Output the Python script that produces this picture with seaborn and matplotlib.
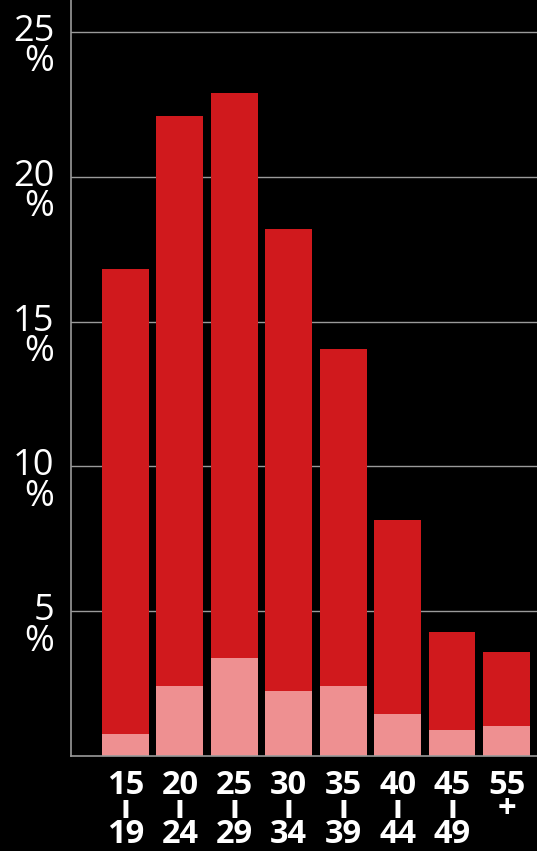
import matplotlib
matplotlib.use("Agg")
import matplotlib.pyplot as plt
from matplotlib.transforms import offset_copy
import seaborn as sns
import pandas as pd

# age groups and shares (%)
age_groups = ["15-19", "20-24", "25-29", "30-34", "35-39", "40-44", "45-49", "55+"]
age_labels = ["15\nı\n19", "20\nı\n24", "25\nı\n29", "30\nı\n34",
              "35\nı\n39", "40\nı\n44", "45\nı\n49", "55\n+\n"]
total_share = [16.8, 22.1, 22.9, 18.2, 14.05, 8.15, 4.28, 3.59]
sub_share = [0.76, 2.42, 3.38, 2.24, 2.42, 1.45, 0.90, 1.04]
y_ticks = [5, 10, 15, 20, 25]

RED = "#D0191D"
PINK = "#EE9091"
GRID = "#9A9A9A"

sns.set_theme(style="white")
plt.rcParams["font.family"] = ["Open Sans", "DejaVu Sans"]

df = pd.DataFrame({"age": age_groups, "total": total_share, "sub": sub_share})

fig = plt.figure(figsize=(5.37, 8.51), dpi=100, facecolor="black")
ax = fig.add_axes([71 / 537, 95 / 851, 1 - 71 / 537, 1 - 95 / 851])
ax.set_facecolor("black")

sns.barplot(data=df, x="age", y="total", order=age_groups, color=RED,
            width=0.86, saturation=1, linewidth=0, ax=ax)
sns.barplot(data=df, x="age", y="sub", order=age_groups, color=PINK,
            width=0.86, saturation=1, linewidth=0, ax=ax)

ax.set_xlim(-1.0, 7.56)
ax.set_ylim(0, 26.1)
ax.set_xlabel("")
ax.set_ylabel("")

# grid
ax.set_yticks(y_ticks)
ax.set_yticklabels([])
ax.tick_params(axis="both", length=0)
ax.yaxis.grid(True, color=GRID, linewidth=1)
ax.set_axisbelow(True)

for side in ["top", "right"]:
    ax.spines[side].set_visible(False)
for side in ["left", "bottom"]:
    ax.spines[side].set_color(GRID)
    ax.spines[side].set_linewidth(1.2)

# y labels: number centred on gridline, % underneath
trans = offset_copy(ax.get_yaxis_transform(), fig=fig, x=0, y=18, units="dots")
for v in y_ticks:
    ax.text(-0.036, v, f"{v}\n%", transform=trans, ha="right", va="top",
            ma="right", color="white", fontsize=26, linespacing=0.8)

# x labels
ax.set_xticks(range(len(age_groups)))
ax.set_xticklabels(age_labels, color="white", fontsize=23.5, fontweight="bold",
                   linespacing=0.67, va="top")
ax.tick_params(axis="x", pad=9)

fig.savefig("out.png", dpi=100, facecolor="black")
